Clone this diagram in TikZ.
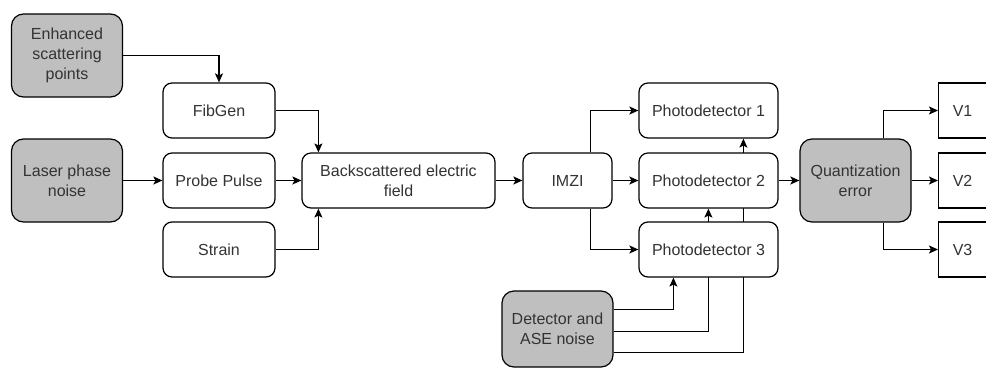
\documentclass[tikz,border=0pt]{standalone}
\usepackage{fontspec}
\setmainfont{Liberation Sans}
\usetikzlibrary{arrows.meta,backgrounds}
\definecolor{greyish}{HTML}{BFBFBF}
\definecolor{inkish}{HTML}{333333}
\newcommand{\vlabel}[1]{\makebox[48pt]{#1}\hspace*{40pt}}

\begin{document}
\begin{tikzpicture}[
   x=1pt, y=-1pt,
   every node/.append style={align=center, font=\fontsize{16}{20}\selectfont, text=inkish},
   block/.style={draw, line width=1.2pt, rounded corners=9pt, fill=white, inner sep=0pt},
   source/.style={block, fill=greyish, rounded corners=12pt, minimum width=111pt, minimum height=83pt},
   stage/.style={block, minimum width=112pt, minimum height=55pt},
   sink/.style={draw, line width=1.2pt, fill=white, inner sep=0pt, minimum height=55pt},
   link/.style={line width=1.2pt, -{Stealth[length=9pt,width=8pt,inset=2pt]}}
]
\useasboundingbox (0,0) rectangle (986,370);
\clip (0,0) rectangle (986,370);

\node[source] (scatter) at (67,55.5) {Enhanced\\scattering\\points};
\node[source] (laser) at (67,180.5) {Laser phase\\noise};
\node[stage] (fibgen) at (219,110.5) {FibGen};
\node[stage] (probe) at (219,180.5) {Probe Pulse};
\node[stage] (strain) at (219,249.5) {Strain};
\node[block, minimum width=193pt, minimum height=55pt] (field) at (398.5,180.5) {Backscattered electric\\field};
\node[block, minimum width=89pt, minimum height=55pt] (imzi) at (567.5,180.5) {IMZI};
\node[block, minimum width=139pt, minimum height=55pt] (pd1) at (708.5,110.5) {Photodetector 1};
\node[block, minimum width=139pt, minimum height=55pt] (pd2) at (708.5,180.5) {Photodetector 2};
\node[block, minimum width=139pt, minimum height=55pt] (pd3) at (708.5,249.5) {Photodetector 3};
\node[source, minimum height=76pt] (noise) at (557.5,329) {Detector and\\ASE noise};
\node[source] (quant) at (855.5,180.5) {Quantization\\error};
\node[sink, anchor=west] (v1) at (938,110.5) {\vlabel{V1}};
\node[sink, anchor=west] (v2) at (938,180.5) {\vlabel{V2}};
\node[sink, anchor=west] (v3) at (938,249.5) {\vlabel{V3}};

\draw[link] (scatter) -| (fibgen);
\draw[link] (fibgen) -| ([xshift=17pt]field.north west);
\draw[link] (laser) -- (probe);
\draw[link] (probe) -- (field);
\draw[link] (strain) -| ([xshift=17pt]field.south west);
\draw[link] (field) -- (imzi);
\draw[link] ([xshift=-22pt]imzi.north east) |- (pd1);
\draw[link] (imzi) -- (pd2);
\draw[link] ([xshift=-22pt]imzi.south east) |- (pd3);
\draw[link] ([yshift=-19pt]noise.north east) -| ([xshift=35pt]pd3.south west);
\begin{pgfonlayer}{background}
\draw[link] ([yshift=-41pt]noise.north east) -| ([xshift=70pt]pd2.south west);
\draw[link] ([yshift=-62pt]noise.north east) -| ([xshift=105pt]pd1.south west);
\end{pgfonlayer}
\draw[link] (pd2) -- (quant);
\draw[link] ([xshift=-28pt]quant.north east) |- (v1);
\draw[link] (quant) -- (v2);
\draw[link] ([xshift=-28pt]quant.south east) |- (v3);
\end{tikzpicture}
\end{document}
